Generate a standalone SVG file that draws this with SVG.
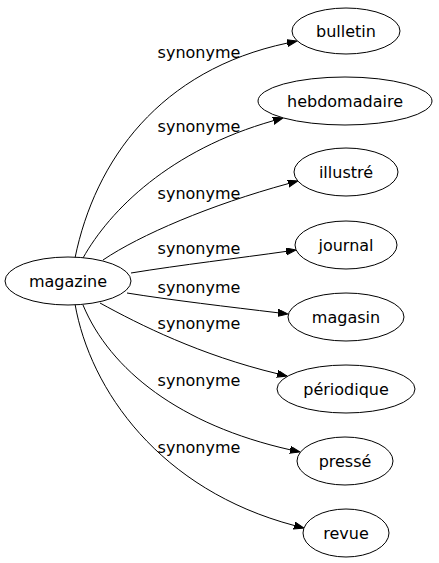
<svg xmlns="http://www.w3.org/2000/svg" width="439" height="563" viewBox="0 0 439 563">
<style>
.n ellipse{fill:#fff;stroke:#000;stroke-width:1}
.n text{font-family:"DejaVu Sans",sans-serif;font-size:16px;text-anchor:middle;fill:#000}
.e path{fill:none;stroke:#000;stroke-width:1;marker-end:url(#ah)}
.e text{font-family:"DejaVu Sans",sans-serif;font-size:16px;text-anchor:middle;fill:#000}
</style>
<defs>
<marker id="ah" markerUnits="userSpaceOnUse" markerWidth="11" markerHeight="8" refX="0" refY="3.5" orient="auto">
<path d="M0,0 L10,3.5 L0,7 z" fill="#000" stroke="#000" stroke-width="1"/>
</marker>
</defs>
<rect width="439" height="563" fill="#fff"/>
<g id="edges" class="e">
<path d="M75,258 C95,160 160,70 287.2,43.1"/>
<text x="199" y="58">synonyme</text>
<path d="M83,258 C110,210 170,150 273.4,120.7"/>
<text x="199" y="132">synonyme</text>
<path d="M103,260 C140,235 210,205 288.3,183.6"/>
<text x="199" y="199">synonyme</text>
<path d="M131,273 C180,265 240,258 286.1,251.4"/>
<text x="199" y="254">synonyme</text>
<path d="M127,293 C170,300 230,307 278.1,312.8"/>
<text x="199" y="293">synonyme</text>
<path d="M100,303 C140,325 200,355 277.3,373.7"/>
<text x="199" y="329">synonyme</text>
<path d="M83,305 C110,370 180,425 290.2,449.8"/>
<text x="199" y="386">synonyme</text>
<path d="M75,304 C90,390 160,490 294.3,525.5"/>
<text x="199" y="453">synonyme</text>
</g>
<g id="magazine" class="n"><ellipse cx="68" cy="281" rx="63" ry="24"/><text x="68" y="287">magazine</text></g>
<g id="bulletin" class="n"><ellipse cx="346" cy="31" rx="54" ry="23"/><text x="346" y="37">bulletin</text></g>
<g id="hebdomadaire" class="n"><ellipse cx="345" cy="101" rx="87" ry="24"/><text x="345" y="107">hebdomadaire</text></g>
<g id="illustre" class="n"><ellipse cx="346" cy="172" rx="52" ry="24"/><text x="346" y="178">illustré</text></g>
<g id="journal" class="n"><ellipse cx="346" cy="245" rx="51" ry="24"/><text x="346" y="251">journal</text></g>
<g id="magasin" class="n"><ellipse cx="346" cy="317" rx="58" ry="24"/><text x="346" y="323">magasin</text></g>
<g id="periodique" class="n"><ellipse cx="346" cy="389" rx="69" ry="24"/><text x="346" y="395">périodique</text></g>
<g id="presse" class="n"><ellipse cx="345" cy="461" rx="48" ry="24"/><text x="345" y="467">pressé</text></g>
<g id="revue" class="n"><ellipse cx="346" cy="533" rx="43" ry="24"/><text x="346" y="539">revue</text></g>
</svg>
